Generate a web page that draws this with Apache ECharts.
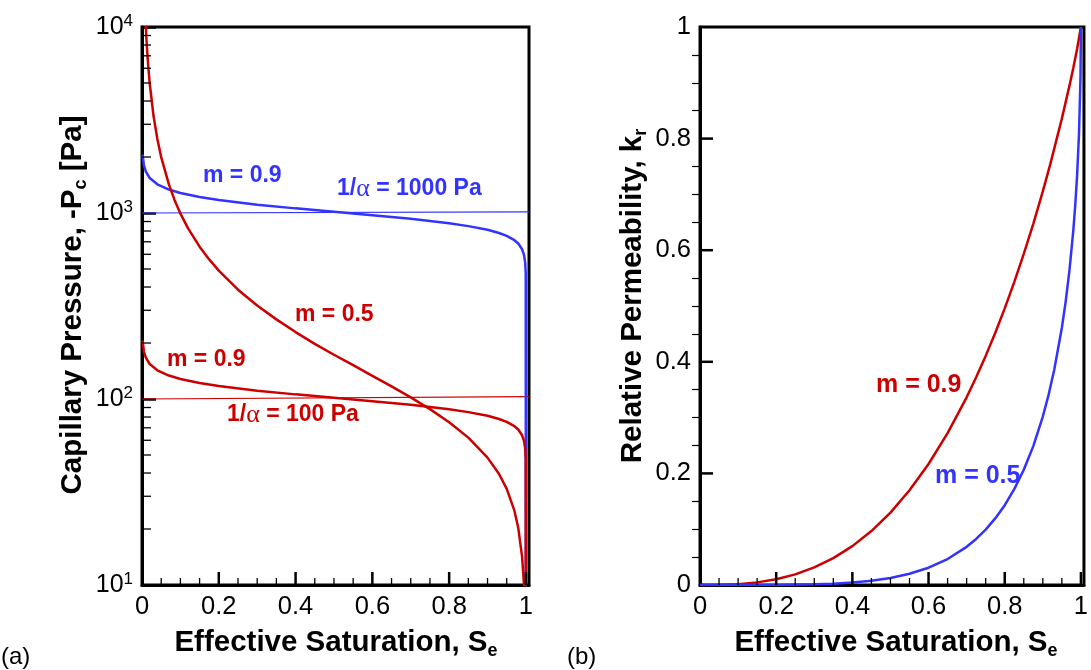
<!DOCTYPE html>
<html>
<head>
<meta charset="utf-8">
<script src="https://cdn.jsdelivr.net/npm/echarts@6/dist/echarts.min.js"></script>
<style>
  html, body { margin: 0; padding: 0; background: #fff; }
  #chart { width: 1091px; height: 670px; }
</style>
</head>
<body>
<div id="chart"></div>
<script>
// (a) capillary pressure curves
const seM09 = [0.0015, 0.005, 0.01, 0.02, 0.04, 0.07, 0.1, 0.15, 0.2, 0.3, 0.4, 0.5, 0.6, 0.7, 0.8, 0.85, 0.9, 0.93, 0.95, 0.97, 0.98, 0.99, 0.995, 0.998, 0.9995, 1.0];
const pcBlueM09 = [2060, 1801, 1667, 1542, 1426, 1337, 1281, 1219, 1174, 1109, 1059, 1015, 973, 930, 881, 850, 812, 781, 753, 714, 685, 638, 595, 543, 473, 1];
const pcRedM09 = [206, 180, 166.7, 154.2, 142.6, 133.7, 128.1, 121.9, 117.4, 110.9, 105.9, 101.5, 97.3, 93.0, 88.1, 85.0, 81.2, 78.1, 75.3, 71.4, 68.5, 63.8, 59.5, 54.3, 47.3, 1];

const seM05 = [0.0098, 0.012, 0.015, 0.02, 0.03, 0.04, 0.05, 0.07, 0.085, 0.1, 0.12, 0.15, 0.175, 0.2, 0.25, 0.3, 0.35, 0.4, 0.45, 0.5, 0.55, 0.6, 0.65, 0.7, 0.75, 0.8, 0.85, 0.9, 0.93, 0.95, 0.97, 0.98, 0.99, 0.995, 0.998];
const pcRedM05 = [10204, 8333, 6666, 4999, 3332, 2498, 1997, 1425, 1172, 995, 827, 659, 563, 490, 387, 318, 268, 229, 198, 173, 152, 133, 117, 102, 88.2, 75, 62, 48.4, 39.5, 32.9, 25.1, 20.3, 14.2, 10.0, 6.3];

// thin reference lines 1/alpha = 1000 Pa and 100 Pa
const refSe = [0, 1.008];
const blueRefPc = [1000, 1015];
const redRefPc = [100, 103];

const logMinorTicks = [20, 30, 40, 50, 60, 70, 80, 90, 200, 300, 400, 500, 600, 700, 800, 900, 2000, 3000, 4000, 5000, 6000, 7000, 8000, 9000];
const xMajorTicks = [0.2, 0.4, 0.6, 0.8, 1.0];
const xMinorTicks = [0.05, 0.1, 0.15, 0.25, 0.3, 0.35, 0.45, 0.5, 0.55, 0.65, 0.7, 0.75, 0.85, 0.9, 0.95];
const krMajorTicks = [0.2, 0.4, 0.6, 0.8];

// (b) relative permeability
const seKrRed = [0, 0.05, 0.1, 0.15, 0.2, 0.25, 0.3, 0.35, 0.4, 0.45, 0.5, 0.55, 0.6, 0.65, 0.7, 0.725, 0.75, 0.775, 0.8, 0.825, 0.85, 0.875, 0.9, 0.92, 0.95, 0.97, 0.98, 0.99, 1.0];
const krRedM09 = [0, 0.0002, 0.0015, 0.0047, 0.0103, 0.019, 0.0315, 0.0482, 0.0697, 0.0967, 0.1298, 0.1697, 0.2168, 0.2722, 0.3364, 0.3722, 0.4106, 0.4517, 0.4958, 0.5429, 0.5933, 0.6473, 0.7054, 0.7551, 0.8358, 0.8949, 0.9267, 0.9606, 1.0];

const seKrBlue = [0, 0.1, 0.2, 0.3, 0.35, 0.4, 0.45, 0.5, 0.55, 0.6, 0.65, 0.7, 0.725, 0.75, 0.775, 0.8, 0.825, 0.85, 0.875, 0.9, 0.915, 0.93, 0.95, 0.96, 0.97, 0.98, 0.985, 0.99, 0.995, 0.999, 1.0];
const krBlueM05 = [0, 0.00001, 0.0002, 0.0012, 0.0024, 0.0044, 0.0077, 0.0127, 0.0202, 0.031, 0.0465, 0.0684, 0.0825, 0.0993, 0.1193, 0.1431, 0.1718, 0.2065, 0.2489, 0.3019, 0.3404, 0.3857, 0.461, 0.5079, 0.5642, 0.6352, 0.6795, 0.7341, 0.8082, 0.9121, 1.0];

const RED = '#cc0000';
const BLUE = '#3333ff';
const FONT = '"Liberation Sans", Arial, Helvetica, sans-serif';
const SERIF = '"Liberation Serif", "DejaVu Serif", serif';

function pairs(xs, ys) {
    return xs.map((x, i) => [x, ys[i]]);
}

function curve(name, xs, ys, color, width, idx) {
    return {
        name: name,
        type: 'line',
        xAxisIndex: idx,
        yAxisIndex: idx,
        data: pairs(xs, ys),
        symbol: 'none',
        clip: true,
        lineStyle: { color: color, width: width },
        z: 3
    };
}

// short tick marks placed through the axis scales (log minor ticks, bottom axis ticks)
function tickSeries(idx, points, len, width, vertical) {
    return {
        type: 'custom',
        coordinateSystem: 'cartesian2d',
        xAxisIndex: idx,
        yAxisIndex: idx,
        silent: true,
        clip: false,
        z: 20,
        data: points,
        renderItem: (params, api) => {
            const p = api.coord([api.value(0), api.value(1)]);
            return {
                type: 'rect',
                shape: vertical
                    ? { x: p[0] - width / 2, y: p[1] - len, width: width, height: len }
                    : { x: p[0], y: p[1] - width / 2, width: len, height: width },
                style: { fill: '#000' }
            };
        }
    };
}

const axisLine = { show: true, onZero: false, lineStyle: { color: '#000', width: 3 } };

function xAxisOf(idx) {
    return {
        type: 'value',
        gridIndex: idx,
        min: 0,
        max: 1.008,
        interval: 0.2,
        axisLine: axisLine,
        axisTick: { show: false },
        minorTick: { show: false },
        splitLine: { show: false },
        axisLabel: {
            fontSize: 25.5, color: '#000', fontFamily: FONT, margin: 9,
            formatter: v => (v > 1.001 ? '' : String(Math.round(v * 10) / 10))
        }
    };
}

function plain(x, y, text, color, size) {
    return {
        type: 'text', x: x, y: y, z: 10,
        style: {
            text: text, fill: color, align: 'left', verticalAlign: 'middle',
            font: 'bold ' + size + 'px ' + FONT
        }
    };
}

function alphaLabel(x, y, rest, color) {
    return {
        type: 'text', x: x, y: y, z: 10,
        style: {
            text: '{n|1/}{g|α}{n|' + rest + '}',
            align: 'left', verticalAlign: 'middle', fill: color,
            rich: {
                n: { fontFamily: FONT, fontWeight: 'bold', fontSize: 23, fill: color, color: color },
                g: { fontFamily: SERIF, fontSize: 26, fill: color, color: color }
            }
        }
    };
}

function title(x, y, main, sub, tail, rot) {
    return {
        type: 'text', x: x, y: y, rotation: rot, z: 10,
        style: {
            text: '{t|' + main + '}{s|' + sub + '}' + (tail ? '{t|' + tail + '}' : ''),
            align: 'center', verticalAlign: 'middle', fill: '#000',
            rich: {
                t: { fontFamily: FONT, fontWeight: 'bold', fontSize: 29.5, lineHeight: 34, fill: '#000', color: '#000' },
                s: { fontFamily: FONT, fontWeight: 'bold', fontSize: 18, lineHeight: 12, verticalAlign: 'bottom', fill: '#000', color: '#000' }
            }
        }
    };
}

const chart = echarts.init(document.getElementById('chart'));

chart.setOption({
    animation: false,
    backgroundColor: '#fff',
    grid: [
        { left: 142, top: 27, width: 387, height: 558, show: true, borderColor: '#000', borderWidth: 3 },
        { left: 700, top: 27, width: 390, height: 558, show: true, borderColor: '#000', borderWidth: 3 }
    ],
    xAxis: [xAxisOf(0), xAxisOf(1)],
    yAxis: [
        {
            type: 'log',
            logBase: 10,
            gridIndex: 0,
            min: 10,
            max: 10000,
            axisLine: axisLine,
            axisTick: { show: true, inside: true, length: 14, lineStyle: { color: '#000', width: 2.5 } },
            minorTick: { show: false },
            splitLine: { show: false },
            axisLabel: {
                margin: 9,
                formatter: v => '{b|10}{s|' + Math.round(Math.log10(v)) + '}',
                rich: {
                    b: { fontSize: 25, lineHeight: 28, fontFamily: FONT, color: '#000' },
                    s: { fontSize: 17, lineHeight: 14, verticalAlign: 'top', fontFamily: FONT, color: '#000' }
                }
            }
        },
        {
            type: 'value',
            gridIndex: 1,
            min: 0,
            max: 1,
            interval: 0.2,
            axisLine: axisLine,
            axisTick: { show: false },
            minorTick: { show: true, splitNumber: 4, length: 8, lineStyle: { color: '#000', width: 1.2 } },
            splitLine: { show: false },
            axisLabel: { fontSize: 25.5, color: '#000', fontFamily: FONT, margin: 9 }
        }
    ],
    series: [
        curve('ref1000', refSe, blueRefPc, BLUE, 1.2, 0),
        curve('ref100', refSe, redRefPc, RED, 1.2, 0),
        curve('m09 a1000', seM09, pcBlueM09, BLUE, 2.5, 0),
        curve('m09 a100', seM09, pcRedM09, RED, 2.5, 0),
        curve('m05 a100', seM05, pcRedM05, RED, 2.5, 0),
        tickSeries(0, logMinorTicks.map(v => [0, v]), 9, 1.3, false),
        tickSeries(0, xMajorTicks.map(v => [v, 10]), 13, 2.5, true),
        tickSeries(0, xMinorTicks.map(v => [v, 10]), 7, 1.3, true),
        tickSeries(1, xMajorTicks.map(v => [v, 0]), 13, 2.5, true),
        tickSeries(1, xMinorTicks.map(v => [v, 0]), 7, 1.3, true),
        tickSeries(1, krMajorTicks.map(v => [0, v]), 13, 2.5, false),
        curve('kr m09', seKrRed, krRedM09, RED, 2.5, 1),
        curve('kr m05', seKrBlue, krBlueM05, BLUE, 2.5, 1)
    ],
    graphic: [
        plain(203, 176, 'm = 0.9', BLUE, 23),
        alphaLabel(337, 189, ' = 1000 Pa', BLUE),
        plain(295, 315, 'm = 0.5', RED, 23),
        plain(167, 360, 'm = 0.9', RED, 23),
        alphaLabel(227, 415, ' = 100 Pa', RED),
        plain(876, 385, 'm = 0.9', RED, 25),
        plain(935, 476, 'm = 0.5', BLUE, 25),
        title(73, 305, 'Capillary Pressure, -P', 'c', ' [Pa]', Math.PI / 2),
        title(633, 296, 'Relative Permeability, k', 'r', '', Math.PI / 2),
        title(336, 643, 'Effective Saturation, S', 'e', '', 0),
        title(896, 643, 'Effective Saturation, S', 'e', '', 0),
        {
            type: 'text', x: 1, y: 657, z: 10,
            style: { text: '(a)', fill: '#000', align: 'left', verticalAlign: 'middle', font: '24px ' + FONT }
        },
        {
            type: 'text', x: 567, y: 657, z: 10,
            style: { text: '(b)', fill: '#000', align: 'left', verticalAlign: 'middle', font: '24px ' + FONT }
        }
    ]
});
</script>
</body>
</html>
